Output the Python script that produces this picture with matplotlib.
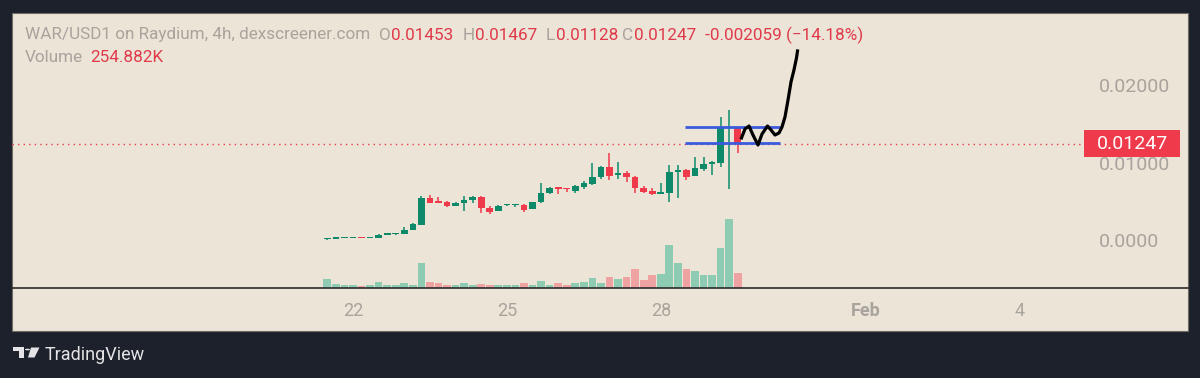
import numpy as np
import matplotlib
matplotlib.use("Agg")
import matplotlib.pyplot as plt
from matplotlib.patches import Rectangle, Polygon, Circle
from matplotlib.lines import Line2D

plt.rcParams['font.family'] = ['Roboto', 'DejaVu Sans']

# 4h candles, WAR/USD1, starting Jan 21 12:00 (x in days of January)
day = 21.5 + np.arange(49) * 4 / 24
opens = [0.00015, 0.00025, 0.00030, 0.00031, 0.00032, 0.00029, 0.00032, 0.00075, 0.00080, 0.00084,
         0.00135, 0.00200, 0.00548, 0.00503, 0.00497, 0.00445, 0.00484, 0.00523, 0.00561, 0.00419,
         0.00381, 0.00452, 0.00452, 0.00458, 0.00406, 0.00497, 0.00613, 0.00677, 0.00668, 0.00639,
         0.00690, 0.00729, 0.00819, 0.00948, 0.00845, 0.00871, 0.00819, 0.00677, 0.00639, 0.00600,
         0.00613, 0.00884, 0.00910, 0.00832, 0.00923, 0.00987, 0.01000, 0.01445, 0.01453]
highs = [0.00028, 0.00032, 0.00033, 0.00034, 0.00034, 0.00033, 0.00084, 0.00085, 0.00090, 0.00174,
         0.00220, 0.00574, 0.00587, 0.00561, 0.00510, 0.00503, 0.00574, 0.00570, 0.00570, 0.00445,
         0.00455, 0.00462, 0.00477, 0.00465, 0.00500, 0.00742, 0.00690, 0.00690, 0.00680, 0.00710,
         0.00768, 0.01000, 0.00955, 0.01129, 0.01013, 0.00897, 0.00826, 0.00703, 0.00677, 0.00742,
         0.00974, 0.00974, 0.00916, 0.01077, 0.01077, 0.01026, 0.01594, 0.01684, 0.01467]
lows = [0.00012, 0.00022, 0.00027, 0.00028, 0.00027, 0.00027, 0.00029, 0.00072, 0.00070, 0.00080,
        0.00130, 0.00195, 0.00480, 0.00484, 0.00432, 0.00440, 0.00381, 0.00484, 0.00361, 0.00342,
        0.00374, 0.00448, 0.00432, 0.00368, 0.00400, 0.00490, 0.00606, 0.00600, 0.00626, 0.00613,
        0.00665, 0.00722, 0.00794, 0.00781, 0.00794, 0.00755, 0.00613, 0.00613, 0.00587, 0.00600,
        0.00497, 0.00548, 0.00781, 0.00826, 0.00897, 0.00845, 0.00948, 0.00665, 0.01128]
closes = [0.00025, 0.00030, 0.00031, 0.00032, 0.00029, 0.00031, 0.00071, 0.00080, 0.00084, 0.00135,
          0.00213, 0.00548, 0.00484, 0.00490, 0.00445, 0.00490, 0.00523, 0.00561, 0.00419, 0.00368,
          0.00445, 0.00458, 0.00462, 0.00394, 0.00497, 0.00613, 0.00677, 0.00665, 0.00660, 0.00703,
          0.00742, 0.00819, 0.00948, 0.00832, 0.00871, 0.00819, 0.00677, 0.00626, 0.00600, 0.00616,
          0.00884, 0.00897, 0.00819, 0.00935, 0.00987, 0.01000, 0.01465, 0.01453, 0.01247]
volumes = [150, 70, 50, 50, 35, 50, 100, 50, 50, 85, 50, 425, 100, 85, 50, 50, 85, 50, 70, 50,
           50, 50, 50, 85, 50, 120, 50, 85, 50, 85, 100, 170, 85, 185, 155, 190, 325, 135, 220, 240,
           730, 425, 325, 290, 220, 220, 680, 1175, 254.882]

# hand drawn range lines + scribble
range_x = [28.47, 30.32]
range_levels = [0.01465, 0.01258]
scribble_x = [29.573, 29.641, 29.719, 29.797, 29.895, 29.973, 30.080, 30.148, 30.226, 30.304,
              30.363, 30.421, 30.480, 30.538, 30.596, 30.645, 30.665]
scribble_y = [0.01323, 0.01439, 0.01477, 0.01361, 0.01232, 0.01374, 0.01477, 0.01426, 0.01361, 0.01387,
              0.01465, 0.01594, 0.01813, 0.02045, 0.02200, 0.02355, 0.02445]

xtick_pos = [22, 25, 28, 32, 35]
xtick_labels = ['22', '25', '28', 'Feb', '4']
ytick_pos = [0.0, 0.01, 0.02]
ytick_labels = ['0.0000', '0.01000', '0.02000']
last_price = 0.01247

W, H = 1200, 378
dark = '#1d212b'
beige = '#ebe4d7'
green = '#0e8a6b'
red = '#ef3a4b'
vgreen = '#8ecbb3'
vred = '#efa2a2'
gray = '#a8a39c'
hred = '#e03a4a'


def fx(px):
    return px / W


def fy(py):
    return 1 - py / H


fig = plt.figure(figsize=(W / 100, H / 100), dpi=100, facecolor=dark)
fig.patches.append(Rectangle((fx(12), fy(331)), fx(1176), 318 / H, transform=fig.transFigure,
                             fc=beige, ec='#6f6c68', lw=0.8, zorder=-5))

ax = fig.add_axes([fx(12), fy(288), fx(1085) - fx(12), 275 / H])
axv = ax.twinx()
axv.set_zorder(1)
ax.set_zorder(2)
ax.patch.set_visible(False)
axv.patch.set_visible(False)

# volume
up = np.array(closes) >= np.array(opens)
axv.bar(day, volumes, width=0.15, color=np.where(up, vgreen, vred), linewidth=0)
axv.set_ylim(0, 4675)
axv.set_yticks([])
for s in axv.spines.values():
    s.set_visible(False)

# candles
o = np.array(opens)
c = np.array(closes)
ccol = np.where(up, green, red)
ax.vlines(day, lows, highs, colors=ccol, linewidth=1.1, zorder=3)
body = np.maximum(np.abs(c - o), 0.0002)
ax.bar(day, body, bottom=np.minimum(o, c), width=0.13, color=ccol, linewidth=0, zorder=4)

ax.axhline(last_price, color=red, linewidth=1, linestyle=(0, (1, 3)), zorder=2)
for lv in range_levels:
    ax.plot(range_x, [lv, lv], color='#3a5bdc', linewidth=2.0, zorder=5, solid_capstyle='butt')
ax.plot(scribble_x, scribble_y, color='black', linewidth=2.3, zorder=6)

ax.set_xlim(15.353, 36.269)
ax.set_ylim(-0.00613, 0.02935)
ax.set_xticks(xtick_pos)
ax.set_xticklabels(xtick_labels)
ax.get_xticklabels()[3].set_fontweight('bold')
ax.yaxis.tick_right()
ax.set_yticks(ytick_pos)
ax.set_yticklabels(ytick_labels)
ax.tick_params(axis='x', length=0, pad=10, labelsize=13, labelcolor=gray)
ax.tick_params(axis='y', length=0, pad=10, labelsize=14, labelcolor=gray)
for s in ax.spines.values():
    s.set_visible(False)

fig.lines.append(Line2D([fx(12), fx(1188)], [fy(288), fy(288)], transform=fig.transFigure,
                        color='#2b2b2b', linewidth=1.2))

# last price badge
yb = ax.transData.transform((0, last_price))[1]
yb = fig.transFigure.inverted().transform((0, yb))[1]
fig.patches.append(Rectangle((fx(1084), yb - 13.5 / H), fx(96), 27 / H, transform=fig.transFigure,
                             fc=red, ec='none', zorder=5))
fig.text(fx(1097), yb, '0.01247', color='white', fontsize=14, va='center', ha='left', zorder=6)

# header
hy = fy(35)
fig.text(fx(25), hy, 'WAR/USD1 on Raydium, 4h, dexscreener.com', color=gray, fontsize=12.3, va='center')
for lab, lx, val, vx in [('O', 379, '0.01453', 391), ('H', 463, '0.01467', 475),
                         ('L', 546, '0.01128', 556), ('C', 622, '0.01247', 634)]:
    fig.text(fx(lx), hy, lab, color=gray, fontsize=12.3, va='center')
    fig.text(fx(vx), hy, val, color=hred, fontsize=12.3, va='center')
fig.text(fx(705), hy, '-0.002059 (\u221214.18%)', color=hred, fontsize=12.3, va='center')
fig.text(fx(25), fy(58), 'Volume', color=gray, fontsize=12.3, va='center')
fig.text(fx(90), fy(58), '254.882K', color=hred, fontsize=12.3, va='center')

# TradingView logo
logo = '#e4e4e6'
fig.patches.append(Rectangle((fx(13), fy(351)), fx(11), 4 / H, transform=fig.transFigure, fc=logo, ec='none'))
fig.patches.append(Rectangle((fx(18.5), fy(357.5)), fx(5.5), 10 / H, transform=fig.transFigure, fc=logo, ec='none'))
fig.patches.append(Circle((fx(27.5), fy(349.5)), 2.6 / W, transform=fig.transFigure, fc=logo, ec='none'))
fig.patches.append(Polygon([(fx(31), fy(347.5)), (fx(39.5), fy(347.5)), (fx(34.5), fy(357.5)), (fx(28), fy(357.5))],
                           closed=True, transform=fig.transFigure, fc=logo, ec='none'))
fig.text(fx(45), fy(354.5), 'TradingView', color=logo, fontsize=13, va='center')

fig.savefig('out.png', dpi=100, facecolor=dark)
